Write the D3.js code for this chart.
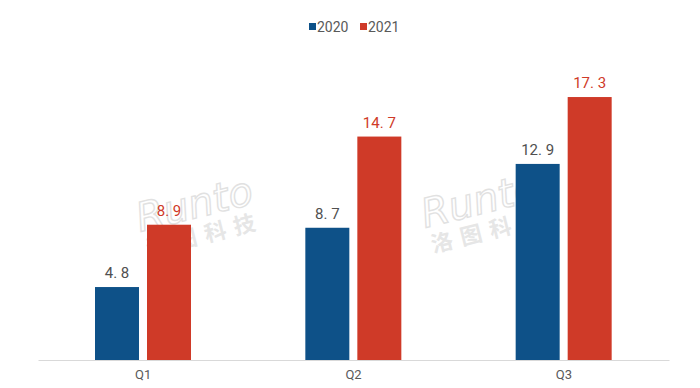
<!DOCTYPE html>
<html><head><meta charset="utf-8">
<script src="https://cdn.jsdelivr.net/npm/d3@7/dist/d3.min.js"></script>
<style>body{margin:0;background:#fff}svg{display:block}</style>
</head><body>
<svg id="c" width="700" height="388"></svg>
<script>
const categories = ["Q1", "Q2", "Q3"];
const seriesNames = ["2020", "2021"];
const values2020 = [4.8, 8.7, 12.9];
const values2021 = [8.9, 14.7, 17.3];
const colors = ["#0e5188", "#cf3a28"];
const labelColors = ["#505050", "#cf3a28"];

const svg = d3.select("#c");
const x = d3.scaleBand().domain(categories).range([38, 669]);
const xi = d3.scaleBand().domain(seriesNames).range([57, 153]).paddingInner(0.154);
const y = d3.scaleLinear().domain([0, 20]).range([360, 56]);

// watermark
const wm = [[140, 232], [425, 228]];
wm.forEach(([wx, wy]) => {
  const g = svg.append("g").attr("transform", `translate(${wx},${wy}) rotate(-14)`).attr("opacity", 0.45);
  g.append("text").attr("x", 0).attr("y", 0).attr("font-family", "DejaVu Sans")
    .attr("font-style", "italic").attr("font-size", 40).attr("fill", "none")
    .attr("stroke", "#bdbdbd").attr("stroke-width", 1.4).text("Runto");
  g.append("text").attr("x", 2).attr("y", 26).attr("font-family", "Noto Sans CJK SC")
    .attr("font-weight", "bold").attr("font-size", 22).attr("letter-spacing", 8)
    .attr("fill", "#c8c8c8").text("洛图科技");
});

const data = categories.map((c, i) => ({c, vals: [values2020[i], values2021[i]]}));
const groups = svg.append("g").selectAll("g").data(data).join("g")
  .attr("transform", d => `translate(${x(d.c)},0)`);
groups.selectAll("rect").data(d => d.vals.map((v, k) => ({v, k})))
  .join("rect")
  .attr("x", d => xi(seriesNames[d.k]))
  .attr("width", xi.bandwidth())
  .attr("y", d => y(d.v))
  .attr("height", d => y(0) - y(d.v))
  .attr("fill", d => colors[d.k]);
groups.selectAll("text").data(d => d.vals.map((v, k) => ({v, k})))
  .join("text")
  .attr("x", d => xi(seriesNames[d.k]) + xi.bandwidth() / 2)
  .attr("y", d => y(d.v) - 9)
  .attr("text-anchor", "middle")
  .attr("font-family", "Liberation Sans Narrow, Roboto, sans-serif")
  .attr("font-size", 15)
  .attr("fill", d => labelColors[d.k])
  .text(d => d.v.toFixed(1).replace(".", ". "));

// axis
const ax = svg.append("g").attr("transform", "translate(0,360)")
  .call(d3.axisBottom(x).tickSize(0).tickPadding(10));
ax.select(".domain").attr("stroke", "#d9d9d9").attr("stroke-width", 1);
ax.selectAll("text").attr("font-family", "Liberation Sans Narrow, Roboto, sans-serif")
  .attr("font-size", 13).attr("fill", "#595959");

// legend
const leg = svg.append("g");
const legItems = [{n: seriesNames[0], x: 309}, {n: seriesNames[1], x: 360}];
legItems.forEach((it, k) => {
  leg.append("rect").attr("x", it.x).attr("y", 23).attr("width", 7).attr("height", 7).attr("fill", colors[k]);
  leg.append("text").attr("x", it.x + 8).attr("y", 32).attr("font-family", "Roboto, sans-serif")
    .attr("font-size", 14).attr("fill", "#595959").text(it.n);
});
</script>
</body></html>
